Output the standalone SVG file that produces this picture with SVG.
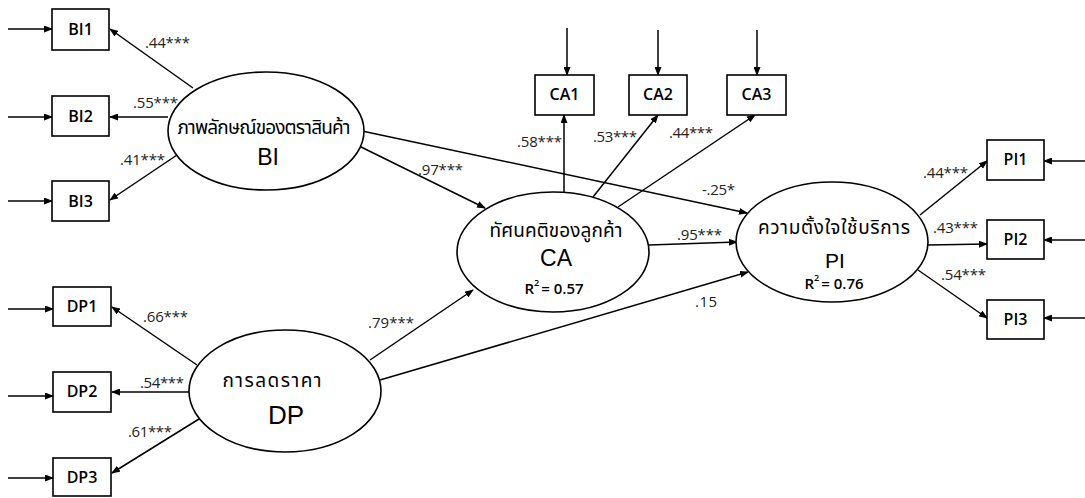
<svg xmlns="http://www.w3.org/2000/svg" width="1085" height="498" viewBox="0 0 1085 498">
<style>
.box{fill:#fff;stroke:#000;stroke-width:1.6}
.ell{fill:#fff;stroke:#000;stroke-width:1.6}
.bl{font-family:"Open Sans","Liberation Sans",sans-serif;font-size:16px;font-weight:600;fill:#000;text-anchor:middle}
.el{font-family:"Open Sans","Liberation Sans",sans-serif;font-size:15px;fill:#222}
.th{font-family:"Noto Sans Thai","Noto Sans","DejaVu Sans",sans-serif;font-size:19px;fill:#000;text-anchor:middle}
.big{font-family:"Liberation Sans",sans-serif;font-size:23px;fill:#000;text-anchor:middle}
.r2{font-family:"Open Sans","Liberation Sans",sans-serif;font-size:15px;font-weight:600;fill:#000;text-anchor:middle}
.c line{stroke:#000;stroke-width:1.5;marker-end:url(#ah)}
</style>
<defs>
<marker id="ah" markerUnits="userSpaceOnUse" markerWidth="9" markerHeight="7" refX="8" refY="3.5" orient="auto">
<path d="M0,0 L9,3.5 L0,7 z" fill="#000"/>
</marker>
</defs>
<g id="connectors" class="c">
<line x1="8" y1="29" x2="52" y2="29"/>
<line x1="8" y1="117" x2="52" y2="117"/>
<line x1="8" y1="201" x2="52" y2="201"/>
<line x1="8" y1="309" x2="53" y2="309"/>
<line x1="8" y1="396" x2="53" y2="396"/>
<line x1="8" y1="478" x2="53" y2="478"/>
<line x1="567" y1="28" x2="567" y2="75"/>
<line x1="658" y1="30" x2="658" y2="75"/>
<line x1="757" y1="30" x2="757" y2="75"/>
<line x1="1085" y1="161" x2="1044" y2="161"/>
<line x1="1085" y1="240" x2="1044" y2="240"/>
<line x1="1085" y1="318" x2="1044" y2="318"/>
<line x1="193" y1="88" x2="110" y2="29"/>
<line x1="168" y1="117" x2="110" y2="117"/>
<line x1="177" y1="155" x2="110" y2="200"/>
<line x1="197" y1="365" x2="112" y2="307"/>
<line x1="190" y1="392" x2="112" y2="392"/>
<line x1="199" y1="419" x2="112" y2="473"/>
<line x1="564" y1="192" x2="564" y2="115"/>
<line x1="593" y1="197" x2="658" y2="115"/>
<line x1="618" y1="207" x2="755" y2="115"/>
<line x1="920" y1="215" x2="987" y2="161"/>
<line x1="928" y1="245" x2="987" y2="244"/>
<line x1="918" y1="270" x2="987" y2="318"/>
<line x1="357" y1="145" x2="485" y2="208"/>
<line x1="362" y1="131" x2="747" y2="213"/>
<line x1="370" y1="360" x2="473" y2="290"/>
<line x1="380" y1="380" x2="748" y2="272"/>
<line x1="649" y1="245" x2="737" y2="242"/>
</g>
<g id="edge-labels">
<text class="el" x="145" y="48" textLength="45">.44***</text>
<text class="el" x="133" y="108" textLength="45">.55***</text>
<text class="el" x="120" y="165" textLength="45">.41***</text>
<text class="el" x="143" y="322" textLength="45">.66***</text>
<text class="el" x="140" y="388" textLength="44">.54***</text>
<text class="el" x="128" y="437" textLength="44">.61***</text>
<text class="el" x="368" y="328" textLength="46">.79***</text>
<text class="el" x="418" y="175" textLength="45">.97***</text>
<text class="el" x="517" y="147" textLength="45">.58***</text>
<text class="el" x="593" y="142" textLength="44">.53***</text>
<text class="el" x="669" y="138" textLength="44">.44***</text>
<text class="el" x="702" y="195" textLength="33">-.25*</text>
<text class="el" x="677" y="240" textLength="45">.95***</text>
<text class="el" x="695" y="307" textLength="22">.15</text>
<text class="el" x="923" y="178" textLength="45">.44***</text>
<text class="el" x="933" y="233" textLength="45">.43***</text>
<text class="el" x="941" y="280" textLength="45">.54***</text>
</g>
<g id="BI1"><rect class="box" x="52" y="9" width="57" height="41"/><text class="bl" x="80.5" y="35">BI1</text></g>
<g id="BI2"><rect class="box" x="52" y="96" width="57" height="40"/><text class="bl" x="80.5" y="122">BI2</text></g>
<g id="BI3"><rect class="box" x="52" y="181" width="57" height="40"/><text class="bl" x="80.5" y="207">BI3</text></g>
<g id="DP1"><rect class="box" x="53" y="287" width="58" height="39"/><text class="bl" x="82" y="312">DP1</text></g>
<g id="DP2"><rect class="box" x="53" y="372" width="58" height="40"/><text class="bl" x="82" y="397">DP2</text></g>
<g id="DP3"><rect class="box" x="53" y="458" width="58" height="38"/><text class="bl" x="82" y="483">DP3</text></g>
<g id="CA1"><rect class="box" x="535" y="75" width="59" height="40"/><text class="bl" x="564.5" y="100">CA1</text></g>
<g id="CA2"><rect class="box" x="629" y="75" width="58" height="40"/><text class="bl" x="658" y="100">CA2</text></g>
<g id="CA3"><rect class="box" x="727" y="75" width="59" height="40"/><text class="bl" x="756.5" y="100">CA3</text></g>
<g id="PI1"><rect class="box" x="987" y="140" width="57" height="40"/><text class="bl" x="1015.5" y="165">PI1</text></g>
<g id="PI2"><rect class="box" x="987" y="220" width="57" height="39"/><text class="bl" x="1015.5" y="245">PI2</text></g>
<g id="PI3"><rect class="box" x="987" y="300" width="57" height="39"/><text class="bl" x="1015.5" y="325">PI3</text></g>
<g id="BI">
<ellipse class="ell" cx="266" cy="131" rx="98" ry="59"/>
<text class="th" x="264" y="134" textLength="173">ภาพลักษณ์ของตราสินค้า</text>
<text class="big" x="268" y="165" font-size="22">BI</text>
</g>
<g id="DP">
<ellipse class="ell" cx="285" cy="391" rx="96" ry="61"/>
<text class="th" x="272" y="387" textLength="99">การลดราคา</text>
<text class="big" x="286" y="424" style="font-size:26px">DP</text>
</g>
<g id="CA">
<ellipse class="ell" cx="553" cy="252" rx="96" ry="60"/>
<text class="th" x="556" y="237" textLength="133">ทัศนคติของลูกค้า</text>
<text class="big" x="556" y="266">CA</text>
<text class="r2" x="554" y="294">R<tspan dy="-8" style="font-size:9px">2</tspan><tspan dx="2" dy="8">= 0.57</tspan></text>
</g>
<g id="PI">
<ellipse class="ell" cx="832" cy="242" rx="96" ry="60"/>
<text class="th" x="834" y="234" textLength="152">ความตั้งใจใช้บริการ</text>
<text class="big" x="835" y="268" style="font-size:21px">PI</text>
<text class="r2" x="834" y="289">R<tspan dy="-8" style="font-size:9px">2</tspan><tspan dx="2" dy="8">= 0.76</tspan></text>
</g>
</svg>
